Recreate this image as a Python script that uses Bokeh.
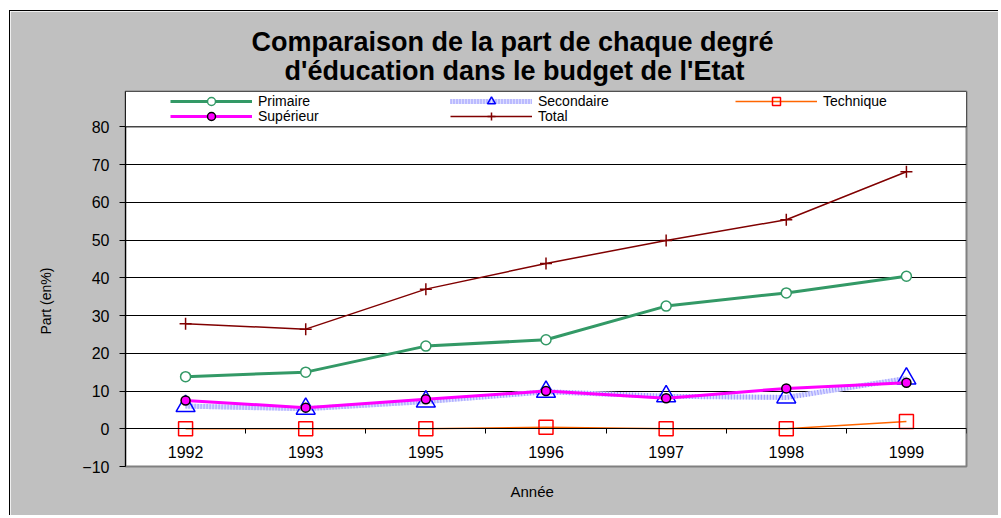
from bokeh.plotting import figure
from bokeh.models import (ColumnDataSource, FixedTicker, Range1d, Legend, LegendItem,
                          BoxAnnotation, Title)
from bokeh.embed import file_html
from bokeh.resources import INLINE

# ---- data ----
years = ["1992", "1993", "1995", "1996", "1997", "1998", "1999"]
primaire = [13.8, 15.0, 21.9, 23.6, 32.5, 36.0, 40.4]
secondaire = [6.0, 5.3, 7.2, 9.8, 8.6, 8.3, 13.3]
technique = [0.0, 0.0, 0.0, 0.4, 0.0, 0.0, 1.9]
superieur = [7.5, 5.6, 7.8, 10.0, 8.1, 10.7, 12.2]
total = [27.8, 26.4, 37.0, 43.8, 49.9, 55.4, 68.1]
y_ticks = [-10, 0, 10, 20, 30, 40, 50, 60, 70, 80]
grid_ticks = [0, 10, 20, 30, 40, 50, 60, 70, 80]

title_1 = "Comparaison de la part de chaque degré"
title_2 = "d'éducation dans le budget de l'Etat"
x_label = "Année"
y_label = "Part (en%)"

FONT = "Liberation Sans"

xs = list(range(len(years)))
src = ColumnDataSource(dict(x=xs, year=years, primaire=primaire, secondaire=secondaire,
                            technique=technique, superieur=superieur, total=total))

p = figure(width=989, height=505,
           x_range=Range1d(-0.5, len(years) - 0.5),
           y_range=Range1d(-10, 89.37),
           output_backend="svg", toolbar_location=None,
           min_border_left=115, min_border_right=33,
           min_border_top=80, min_border_bottom=50,
           border_fill_color="#C0C0C0", background_fill_color="white",
           outline_line_color="#808080", outline_line_width=2)
p.styles = {"margin-left": "9px", "margin-top": "10px",
            "border-left": "1px solid black", "border-top": "1px solid black"}

# ---- titles ----
p.title.text = title_1
p.title.align = "left"
p.title.offset = 126
p.title.standoff = -16
p.title.text_font = FONT
p.title.text_font_size = "27px"
p.title.text_font_style = "bold"
p.title.text_color = "black"
p.add_layout(Title(text=title_2, align="left", offset=159, standoff=11,
                   text_font=FONT, text_font_size="27px", text_font_style="bold",
                   text_color="black"), "above")
p.add_layout(Title(text=x_label, align="left", offset=385, standoff=29,
                   text_font=FONT, text_font_size="15px", text_font_style="normal",
                   text_color="black"), "below")

# ---- x axis (crosses at 0, like Excel) ----
xa = p.xaxis[0]
xa.fixed_location = 0
xa.ticker = FixedTicker(ticks=xs, minor_ticks=[i - 0.5 for i in range(len(years) + 1)])
xa.major_label_overrides = {i: y for i, y in enumerate(years)}
xa.major_tick_line_color = None
xa.major_tick_out = 0
xa.major_tick_in = 0
xa.minor_tick_in = 0
xa.minor_tick_out = 5
xa.minor_tick_line_color = "black"
xa.axis_line_color = "black"
xa.major_label_text_font = FONT
xa.major_label_text_font_size = "16px"
xa.major_label_text_color = "black"
xa.major_label_standoff = 12
p.xgrid.visible = False

# ---- y axis ----
ya = p.yaxis[0]
ya.ticker = FixedTicker(ticks=y_ticks)
ya.major_tick_out = 6
ya.major_tick_in = 0
ya.minor_tick_line_color = None
ya.axis_line_color = "black"
ya.major_tick_line_color = "black"
ya.major_label_text_font = FONT
ya.major_label_text_font_size = "16px"
ya.major_label_text_color = "black"
ya.major_label_standoff = 10
p.ygrid.ticker = FixedTicker(ticks=grid_ticks)
p.ygrid.grid_line_color = "black"
p.ygrid.grid_line_width = 1

# y axis title, centred on the 80..-10 part of the plot area like the original
p.add_layout(Title(text=y_label, align="left", offset=132, standoff=48,
                   vertical_align="top",
                   text_font=FONT, text_font_size="14px", text_font_style="normal",
                   text_color="black"), "left")

# ---- legend box ----
box = BoxAnnotation(bottom=80, fill_color="white", fill_alpha=1.0,
                    line_color="black", line_width=1, line_alpha=1.0)
p.add_layout(box)

# ---- series ----
l1 = p.line("x", "primaire", source=src, line_color="#339966", line_width=3)
s1 = p.scatter("x", "primaire", source=src, marker="circle", size=10,
               fill_color="white", line_color="#339966", line_width=1.5)

l2a = p.line("x", "secondaire", source=src, line_color="#DCDCFF", line_width=5)
l2b = p.line("x", "secondaire", source=src, line_color="#9999FF", line_width=5, line_dash="1 2")
s2 = p.scatter("x", "secondaire", source=src, marker="triangle", size=19,
               fill_color=None, line_color="#0000FF", line_width=1.5)

l3 = p.line("x", "technique", source=src, line_color="#FF6600", line_width=1.5)
s3 = p.scatter("x", "technique", source=src, marker="square", size=14,
               fill_color=None, line_color="#FF0000", line_width=1.5)

l4 = p.line("x", "superieur", source=src, line_color="#FF00FF", line_width=3)
s4 = p.scatter("x", "superieur", source=src, marker="circle", size=9,
               fill_color="#FF00FF", line_color="black", line_width=1.5)

l5 = p.line("x", "total", source=src, line_color="#800000", line_width=1.5)
s5 = p.scatter("x", "total", source=src, marker="cross", size=12,
               line_color="#800000", line_width=1.5)


def add_legend_entry(label, renderers, loc):
    leg = Legend(items=[LegendItem(label=label, renderers=renderers)], location=loc)
    leg.glyph_width = 82
    leg.glyph_height = 20
    leg.label_height = 12
    leg.label_standoff = 6
    leg.padding = 0
    leg.margin = 0
    leg.border_line_color = None
    leg.background_fill_alpha = 0
    leg.label_text_font = FONT
    leg.label_text_font_size = "14px"
    leg.label_text_color = "black"
    p.add_layout(leg)


add_legend_entry("Primaire", [l1, s1], (45, 355))
add_legend_entry("Secondaire", [l2a, l2b, s2], (325, 355))
add_legend_entry("Technique", [l3, s3], (610, 355))
add_legend_entry("Supérieur", [l4, s4], (45, 340))
add_legend_entry("Total", [l5, s5], (325, 340))

open("out.html", "w").write(file_html(p, INLINE))
